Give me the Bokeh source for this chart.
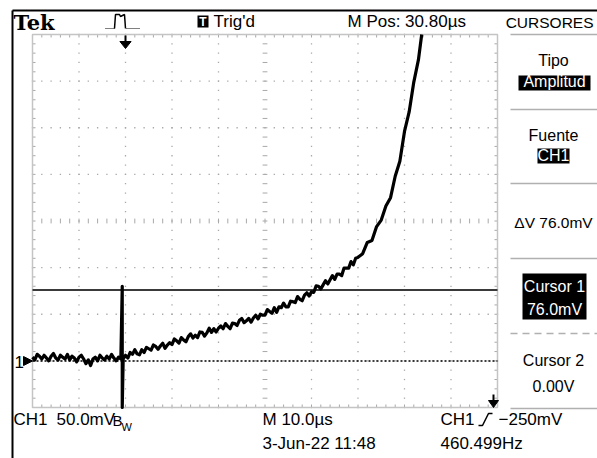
from bokeh.plotting import figure
from bokeh.models import Range1d
from bokeh.embed import file_html
from bokeh.resources import INLINE
from bokeh.core.properties import value

# ---------------- data ----------------
# CH1 trace: time in microseconds across the screen, voltage in mV
flat_time_us = [i * 0.5 for i in range(39)]
flat_mv = [4, 1, 7, 5, 2, 6, 3, 0, 5, 8,
           3, 1, 6, 4, 2, 7, 1, 5, 3, -1,
           4, 6, 2, -3, 1, -5, 2, 4, 0, 6,
           3, 1, 5, 2, 7, 3, 0, 4, 2]
spike_time_us = [19.3, 19.3, 19.5]
spike_mv = [80, -50, 2]
rise_time_us = [20 + i * 0.5 for i in range(101)]
rise_mv = [6, 3, 9, 7, 12, 7.5, 6.5, 12, 9, 14.5,
           13, 11.5, 17, 15.5, 12.5, 16, 19, 13.5, 17, 19.5,
           17.5, 23.5, 21.5, 19, 25, 22.5, 20.5, 26, 29, 24.5,
           27.5, 25, 31, 30.5, 26.5, 30, 35, 30.5, 34.5, 31,
           35, 37.5, 34.5, 40, 37, 34.5, 40.5, 40, 38, 43.5,
           45.5, 41, 43, 45.5, 41.5, 46, 49, 45, 50, 49,
           49, 55, 53, 51, 57, 52, 58, 57, 62, 58,
           58, 64, 63.5, 62.5, 69, 66, 64.5, 70.5, 73, 69.5,
           74, 73.5, 80.5, 80, 77, 81.5, 86, 82.5, 87, 91.5,
           87.5, 93, 93, 91.5, 99.5, 99.5, 99.5, 106.5, 103, 110,
           111]
steep_time_us = [71, 72, 73, 74, 75, 76, 77, 78, 79, 80, 81, 82, 83, 83.7]
steep_mv = [115, 127, 129, 144, 151, 166, 175, 198, 214, 246, 267, 299, 323, 350]
time_us = flat_time_us + spike_time_us + rise_time_us + steep_time_us
ch1_mv = flat_mv + spike_mv + rise_mv + steep_mv

cursor1_mv = 76.0
cursor2_mv = 0.0
trigger_time_us = 20.0

# screen scales
time_per_div_us = 10
volt_per_div_mv = 50
h_divs = 10
v_divs = 8
screen_bottom_mv = -50

# texts
header_texts = ["Trig'd", "M Pos: 30.80\u00b5s", "CURSORES"]
panel_texts = ["Tipo", "Amplitud", "Fuente", "CH1", "\u0394V 76.0mV",
               "Cursor 1", "76.0mV", "Cursor 2", "0.00V"]
bottom_texts = ["CH1", "50.0mV", "M 10.0\u00b5s", "3-Jun-22 11:48",
                "CH1", "\u2212250mV", "460.499Hz"]

# ---------------- figure ----------------
W, H = 597, 458
t_px_per_us = (497 - 32) / (h_divs * time_per_div_us)
mv_px = (407 - 34) / (v_divs * volt_per_div_mv)
t0_px, mv0_px = 32.0, 407 + screen_bottom_mv * mv_px
t_range = Range1d((0 - t0_px) / t_px_per_us, (W - t0_px) / t_px_per_us)
mv_range = Range1d((mv0_px - H) / mv_px, (mv0_px - 0) / mv_px)

p = figure(width=W, height=H, x_range=Range1d(0, W), y_range=Range1d(H, 0),
           x_axis_location=None, y_axis_location=None, min_border=0,
           toolbar_location=None, output_backend="svg",
           background_fill_color="white", border_fill_color="white")
p.extra_x_ranges = {"t": t_range}
p.extra_y_ranges = {"mv": mv_range}
p.grid.visible = False
p.outline_line_color = None

TM = dict(x_range_name="t", y_range_name="mv")
FONT = value("Liberation Sans")


def txt(x, y, s, size=17, color="black", align="left",
        font=FONT, style="normal"):
    # y is the intended baseline; compensate the glyph's baseline placement
    p.text(x=[x], y=[y - 0.35 * size], text=[s], text_font=font,
           text_font_size=f"{size}px", text_color=color, text_align=align,
           text_baseline="alphabetic", text_font_style=style)


# ---------------- graticule ----------------
t_end = h_divs * time_per_div_us
mv_top = screen_bottom_mv + v_divs * volt_per_div_mv
minor_t = time_per_div_us / 5
minor_mv = volt_per_div_mv / 5
grid_col = "#a8a8a8"

dx, dy = [], []
for i in range(1, h_divs):
    if i == h_divs // 2:
        continue
    for j in range(v_divs * 5 + 1):
        dx.append(i * time_per_div_us)
        dy.append(screen_bottom_mv + j * minor_mv)
for k in range(1, v_divs):
    if k == v_divs // 2:
        continue
    for j in range(h_divs * 5 + 1):
        dx.append(j * minor_t)
        dy.append(screen_bottom_mv + k * volt_per_div_mv)
p.rect(x=dx, y=dy, width=1.3, height=1.3, width_units="screen",
       height_units="screen", fill_color=grid_col, line_color=None, **TM)

tick_t = 3 / t_px_per_us
tick_mv = 3 / mv_px
sx0, sy0, sx1, sy1 = [], [], [], []
for j in range(h_divs * 5 + 1):
    x = j * minor_t
    sx0 += [x, x, x]
    sx1 += [x, x, x]
    sy0 += [mv_top, screen_bottom_mv, (mv_top + screen_bottom_mv) / 2 - tick_mv * 0.8]
    sy1 += [mv_top - tick_mv, screen_bottom_mv + tick_mv,
            (mv_top + screen_bottom_mv) / 2 + tick_mv * 0.8]
for j in range(v_divs * 5 + 1):
    y = screen_bottom_mv + j * minor_mv
    sy0 += [y, y, y]
    sy1 += [y, y, y]
    sx0 += [0, t_end, t_end / 2 - tick_t * 0.8]
    sx1 += [tick_t, t_end - tick_t, t_end / 2 + tick_t * 0.8]
p.segment(x0=sx0, y0=sy0, x1=sx1, y1=sy1, line_color=grid_col, line_width=1, **TM)

p.quad(left=[0], right=[t_end], bottom=[screen_bottom_mv], top=[mv_top],
       fill_color=None, line_color="#c4c4c4", line_width=1.5, **TM)

# ---------------- cursors and trace ----------------
p.line(x=[0, t_end], y=[cursor2_mv, cursor2_mv], line_color="black",
       line_width=1.5, line_dash="2 2", **TM)
p.line(x=[0, t_end], y=[cursor1_mv, cursor1_mv], line_color="#3a3a3a",
       line_width=2, **TM)
p.line(x=time_us, y=ch1_mv, line_color="black", line_width=3.2,
       line_join="round", **TM)

# ground marker "1 ->"
txt(14, 367, "1")
p.patch(x=[23, 32, 23], y=[356, 360.5, 365], fill_color="black", line_color="black")

# trigger position arrow (top) and trigger level arrow (bottom right)
p.segment(x0=[trigger_time_us], y0=[35], x1=[trigger_time_us], y1=[42],
          line_color="black", line_width=2, x_range_name="t")
tt = trigger_time_us
p.patch(x=[tt - 1.2, tt + 1.2, tt], y=[41, 41, 48], fill_color="black",
        line_color="black", x_range_name="t")
p.segment(x0=[493], y0=[394], x1=[493], y1=[401], line_color="black", line_width=2)
p.patch(x=[488, 498, 493], y=[400, 400, 407], fill_color="black", line_color="black")

# ---------------- frame lines ----------------
p.line(x=[12, W], y=[10, 10], line_color="black", line_width=2)
p.line(x=[12, 12], y=[10, H], line_color="black", line_width=2)

# ---------------- header ----------------
txt(13, 29, "Tek", size=21, font=value("DejaVu Serif"), style="bold")
p.line(x=[105, 114], y=[28, 28], line_color="black", line_width=1, line_dash="1 1")
p.line(x=[114, 115, 119, 120, 124, 125], y=[28, 14, 14, 16, 14, 28],
       line_color="black", line_width=1.5)
p.line(x=[126, 139], y=[28, 28], line_color="black", line_width=1, line_dash="1 1")
p.quad(left=[197], right=[208], top=[15], bottom=[27], fill_color="black", line_color=None)
txt(202.5, 25.5, "T", size=12, color="white", align="center", style="bold")
txt(213, 27, header_texts[0])
txt(347, 27, header_texts[1])
txt(593, 27, header_texts[2], size=15.5, align="right")

# ---------------- right panel ----------------
sep_col = "#b0b0b0"
for y in [34, 109, 183, 258, 408]:
    p.line(x=[510, W], y=[y, y], line_color=sep_col, line_width=1.5)
p.line(x=[510, W], y=[333, 333], line_color=sep_col, line_width=1.5, line_dash="7 5")

cx = 553
p.quad(left=[518, 537, 522], right=[590, 569, 586], top=[75, 148, 273],
       bottom=[90, 163, 319], fill_color="black", line_color=None)
txt(cx, 66, panel_texts[0], size=16, align="center")
txt(cx + 1, 87, panel_texts[1], size=16, color="white", align="center")
txt(cx, 141, panel_texts[2], size=16, align="center")
txt(cx, 161, panel_texts[3], size=16, color="white", align="center")
txt(cx, 227, panel_texts[4], size=15.5, align="center")
txt(cx + 1, 292, panel_texts[5], size=16, color="white", align="center")
txt(cx + 1, 315, panel_texts[6], size=16, color="white", align="center")
txt(cx, 366, panel_texts[7], size=16, align="center")
txt(cx, 392, panel_texts[8], size=16, align="center")

# ---------------- bottom status ----------------
txt(13, 425, bottom_texts[0])
txt(56, 425, bottom_texts[1])
txt(112, 425, "B", size=15)
txt(121, 430, "W", size=11)
txt(262, 425, bottom_texts[2])
txt(262, 449, bottom_texts[3])
txt(440, 425, bottom_texts[4])
p.line(x=[478, 482, 488, 492], y=[425, 425, 413, 413], line_color="black", line_width=1.5)
txt(498, 425, bottom_texts[5])
txt(440, 449, bottom_texts[6])

open("out.html", "w").write(file_html(p, INLINE))
